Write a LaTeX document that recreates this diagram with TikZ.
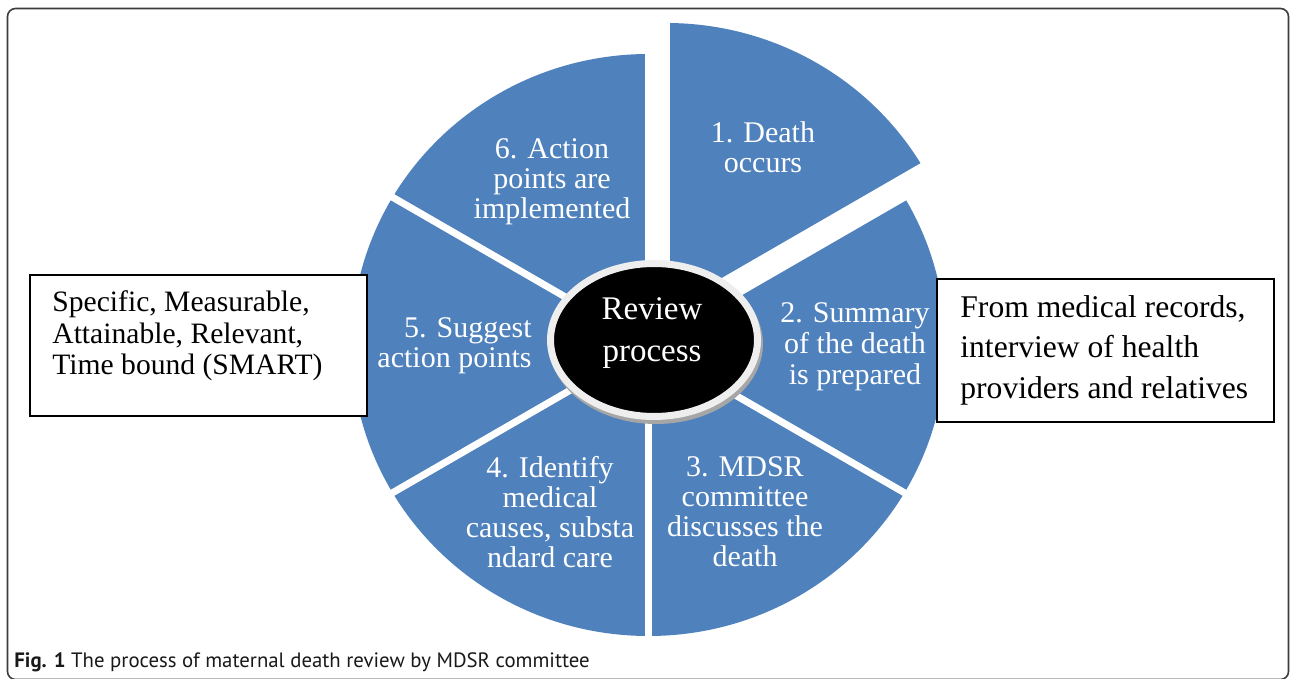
\documentclass[tikz,border=0pt]{standalone}
\usepackage{fontspec}
\setmainfont{Liberation Serif}
\newfontfamily\capfont{PT Sans}
\usetikzlibrary{calc,shapes.geometric}
\definecolor{pieblue}{RGB}{79,129,189}
\definecolor{ringgray}{RGB}{238,238,238}
\definecolor{framegray}{RGB}{60,60,60}
\tikzset{
  gap/.style={white, line width=3.5pt},
  lab/.style={text=white, align=center, inner sep=0pt, font=\fontsize{15}{15}\selectfont},
  hubshape/.style={ellipse, fill=black, draw=ringgray, line width=3.5pt, minimum width=103.5pt, minimum height=76.5pt, inner sep=0pt},
  sidebox/.style={draw=black, line width=1pt, fill=white, minimum width=168.5pt, inner sep=0pt},
}
\begin{document}
\begin{tikzpicture}[x=0.5pt,y=0.5pt]
\useasboundingbox (0,0) rectangle (1290,-679);
% outer frame
\draw[framegray, line width=0.8pt, rounded corners=4pt] (7.5,-8.5) rectangle (1288.5,-679.5);
% pie
\coordinate (C) at (648.5,-345);
\coordinate (C1) at ($(C)+(18,31)$);
\fill[pieblue] (C) -- ++(90:297 and 291) arc[start angle=90, end angle=390, x radius=297, y radius=291] -- cycle;
\foreach \a in {30,90,150,210,270,330}
  \draw[gap] (C) -- ++(\a:310);
\fill[pieblue] (C1) -- ++(30:297 and 291) arc[start angle=30, end angle=90, x radius=297, y radius=291] -- cycle;
\draw[gap] (C1) -- ++(30:305);
\draw[gap] (C1) -- ++(90:300);
% hub
\fill[black!35] (656,-344) ellipse[x radius=107, y radius=80];
\node[hubshape] (hub) at (654,-340) {};
\node[text=white, align=center, inner sep=0pt, font=\fontsize{16.5}{21}\selectfont] (hubtext) at (652,-333.3) {Review\\process};
% sector labels
\node[lab] (s1) at (763,-146.8) {1. Death\\occurs};
\node[lab, font=\fontsize{15}{15.5}\selectfont] (s2) at (855,-347) {2. Summary\\of the death\\is prepared};
\node[lab] (s3) at (745,-511.8) {3. MDSR\\committee\\discusses the\\death};
\node[lab] (s4) at (550,-511.8) {4. Identify\\medical\\causes, substa\\ndard care};
\node[lab, align=right, anchor=east] (s5) at (532,-346) {5. Suggest\\action points};
\node[lab] (s6) at (552,-182) {6. Action\\points are\\implemented};
% side boxes
\node[sidebox, minimum height=70.5pt] (leftbox) at (198.5,-345.5) {};
\node[anchor=west, align=left, inner sep=0pt, font=\fontsize{14.8}{15.75}\selectfont] (lefttext) at (52,-336) {Specific, Measurable,\\Attainable, Relevant,\\Time bound (SMART)};
\node[sidebox, minimum height=71.5pt] (rightbox) at (1105.5,-350.5) {};
\node[anchor=west, align=left, inner sep=0pt, font=\fontsize{15.8}{20.25}\selectfont] (righttext) at (960,-350.2) {From medical records,\\interview of health\\providers and relatives};
% caption
\node[anchor=base west, inner sep=0pt, text=black!90, font=\capfont\fontsize{10.4}{12}\selectfont] (caption) at (14,-667) {\textbf{Fig. 1} The process of maternal death review by MDSR committee};
\end{tikzpicture}
\end{document}
